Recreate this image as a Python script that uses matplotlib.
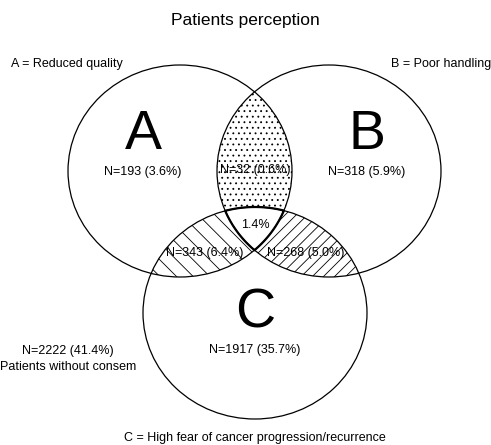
import numpy as np
import matplotlib
matplotlib.use('Agg')
import matplotlib.pyplot as plt
from matplotlib.patches import Ellipse, Polygon

plt.rcParams['font.family'] = ['Liberation Sans', 'DejaVu Sans']
plt.rcParams['hatch.linewidth'] = 0.6

# Venn sets and region counts
set_names = ['A', 'B', 'C']
set_labels = ['A = Reduced quality', 'B = Poor handling',
              'C = High fear of cancer progression/recurrence']
only_labels = ['N=193 (3.6%)', 'N=318 (5.9%)', 'N=1917 (35.7%)']
ab_label = 'N=32 (0.6%)'
ac_label = 'N=343 (6.4%)'
bc_label = 'N=268 (5.0%)'
abc_label = '1.4%'
none_label = 'N=2222 (41.4%)\nPatients without consem'
title = 'Patients perception'

# ellipse layout in pixel coords (y down)
centers = [(180, 171), (329, 171), (255, 313)]
rx, ry = 112, 106


def inside(pts, c, tol=1e-6):
    return ((pts[:, 0] - c[0]) / rx) ** 2 + ((pts[:, 1] - c[1]) / ry) ** 2 <= 1 + tol


def intersect(idx):
    # intersection of convex ellipses as a polygon
    t = np.linspace(0, 2 * np.pi, 2000)
    pts = []
    for i in idx:
        c = centers[i]
        p = np.column_stack([c[0] + rx * np.cos(t), c[1] + ry * np.sin(t)])
        ok = np.ones(len(p), bool)
        for j in idx:
            if j != i:
                ok &= inside(p, centers[j], 1e-4)
        pts.append(p[ok])
    pts = np.vstack(pts)
    m = pts.mean(axis=0)
    order = np.argsort(np.arctan2(pts[:, 1] - m[1], pts[:, 0] - m[0]))
    return pts[order]


fig = plt.figure(figsize=(4.91, 4.45), dpi=100)
ax = fig.add_axes([0, 0, 1, 1])
ax.set_xlim(0, 491)
ax.set_ylim(445, 0)
ax.axis('off')

ax.add_patch(Polygon(intersect([0, 1]), closed=True, facecolor='white',
                     edgecolor='black', lw=0, hatch='...'))
ax.add_patch(Polygon(intersect([0, 2]), closed=True, facecolor='white',
                     edgecolor='black', lw=0, hatch='\\\\'))
ax.add_patch(Polygon(intersect([1, 2]), closed=True, facecolor='white',
                     edgecolor='black', lw=0, hatch='///'))
ax.add_patch(Polygon(intersect([0, 1, 2]), closed=True, facecolor='white',
                     edgecolor='black', lw=1.6))

for c in centers:
    ax.add_patch(Ellipse(c, 2 * rx, 2 * ry, fill=False, edgecolor='black', lw=0.9))

# big set letters
ax.text(143, 135, set_names[0], fontsize=40, ha='center', va='center')
ax.text(367, 135, set_names[1], fontsize=40, ha='center', va='center')
ax.text(255, 313, set_names[2], fontsize=40, ha='center', va='center')

fs = 9
ax.text(143, 172, only_labels[0], fontsize=fs, ha='center', va='center')
ax.text(367, 172, only_labels[1], fontsize=fs, ha='center', va='center')
ax.text(255, 350, only_labels[2], fontsize=fs, ha='center', va='center')
ax.text(255, 170, ab_label, fontsize=fs, ha='center', va='center')
ax.text(205, 253, ac_label, fontsize=fs, ha='center', va='center')
ax.text(306, 253, bc_label, fontsize=fs, ha='center', va='center')
ax.text(255, 225, abc_label, fontsize=fs, ha='center', va='center')
ax.text(68, 359, none_label, fontsize=fs, ha='center', va='center', linespacing=1.5)

ax.text(67, 64, set_labels[0], fontsize=fs, ha='center', va='center')
ax.text(441, 64, set_labels[1], fontsize=fs, ha='center', va='center')
ax.text(255, 438, set_labels[2], fontsize=fs, ha='center', va='center')

ax.text(245, 20, title, fontsize=12.5, ha='center', va='center')

fig.savefig('out.png', dpi=100)
